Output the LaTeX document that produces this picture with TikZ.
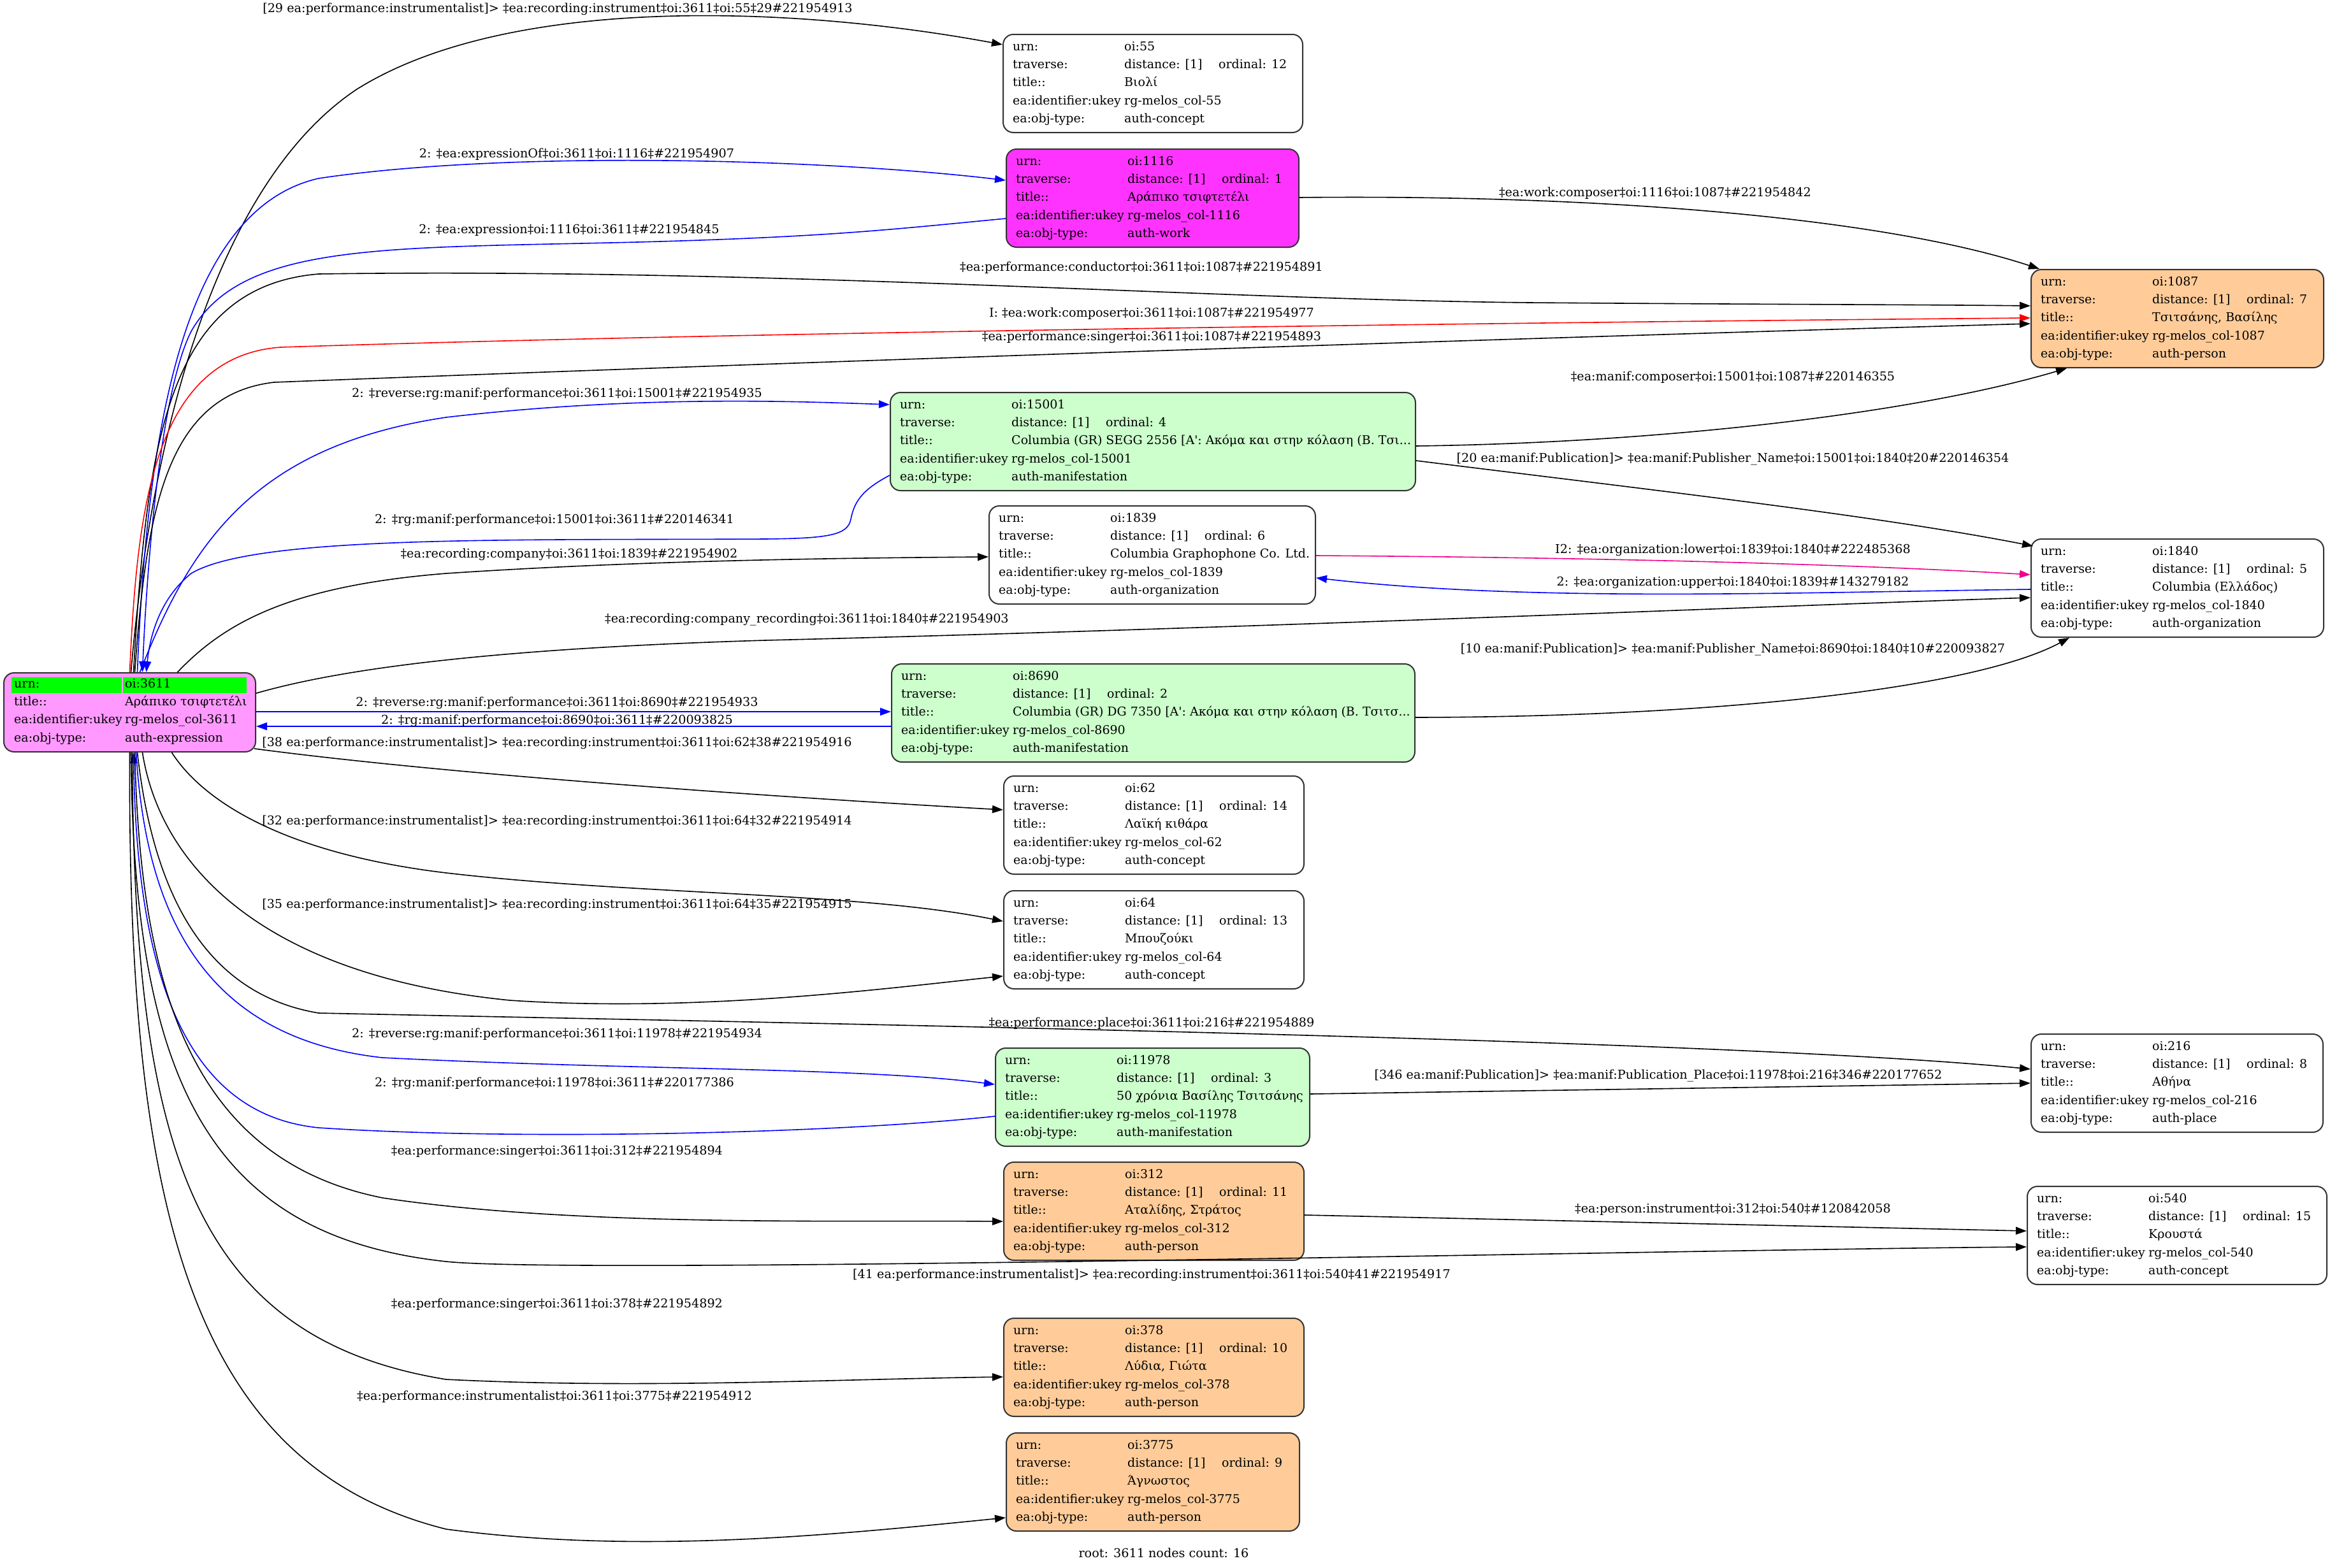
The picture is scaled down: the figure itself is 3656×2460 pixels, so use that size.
\documentclass[tikz,border=0pt]{standalone}
\usepackage{fontspec}
\newfontfamily\gv{DejaVu Serif}
\usetikzlibrary{arrows.meta}
\definecolor{ogreen}{HTML}{CCFFCC}
\definecolor{oorange}{HTML}{FFCC99}
\definecolor{omag}{HTML}{FF33FF}
\definecolor{opink}{HTML}{FF99FF}
\definecolor{cellgreen}{HTML}{00FF00}
\tikzset{
 obox/.style={draw=black!80, line width=2pt, rounded corners=16pt, minimum height=154pt, inner sep=0pt, anchor=north west},
 otext/.style={inner sep=0pt, anchor=north west, font=\gv\fontsize{19}{28.4}\selectfont},
 elabel/.style={inner sep=0pt, font=\gv\fontsize{19.2}{24}\selectfont},
 edge/.style={line width=1.6pt, -{Triangle[length=17pt,width=12pt]}},
}
\newcommand\onode[9]{%
 \node[obox, fill=#4, minimum width=#3pt] (#1) at (#2) {};
 \node[otext] (#1t) at ([xshift=16pt,yshift=-6pt]#1.north west) {\begin{tabular}{@{}p{175pt}@{}l@{}}urn: & #5\\traverse: & \makebox[148pt][l]{distance: [1]}ordinal: #6\\title:: & #7\\ea:identifier:ukey & #8\\ea:obj-type: & #9\end{tabular}};}
\begin{document}
\begin{tikzpicture}[x=1pt,y=-1pt]
\useasboundingbox[fill=white] (0,0) rectangle (3656,2460);
% root
\node[obox, fill=opink, minimum width=395pt, minimum height=124pt] (root) at (5,1055) {};
\fill[cellgreen] (18,1063) rectangle (191,1088);
\fill[cellgreen] (193,1063) rectangle (387,1088);
\node[otext] (roott) at ([xshift=17pt,yshift=-4pt]root.north west) {\begin{tabular}{@{}p{174pt}@{}l@{}}urn: & oi:3611\\title:: & Αράπικο τσιφτετέλι\\ea:identifier:ukey & rg-melos\_col-3611\\ea:obj-type: & auth-expression\end{tabular}};
% other nodes
\onode{n55}{1573,53}{470}{white}{oi:55}{12}{Βιολί}{rg-melos\_col-55}{auth-concept}
\onode{n1116}{1578,233}{459}{omag}{oi:1116}{1}{Αράπικο τσιφτετέλι}{rg-melos\_col-1116}{auth-work}
\onode{n1087}{3186,422}{459}{oorange}{oi:1087}{7}{Τσιτσάνης, Βασίλης}{rg-melos\_col-1087}{auth-person}
\onode{n15001}{1396,615}{824}{ogreen}{oi:15001}{4}{Columbia (GR) SEGG 2556 [A': Ακόμα και στην κόλαση (Β. Τσι...}{rg-melos\_col-15001}{auth-manifestation}
\onode{n1839}{1551,793}{512}{white}{oi:1839}{6}{Columbia Graphophone Co. Ltd.}{rg-melos\_col-1839}{auth-organization}
\onode{n1840}{3186,845}{459}{white}{oi:1840}{5}{Columbia (Ελλάδος)}{rg-melos\_col-1840}{auth-organization}
\onode{n8690}{1398,1041}{821}{ogreen}{oi:8690}{2}{Columbia (GR) DG 7350 [A': Ακόμα και στην κόλαση (Β. Τσιτσ...}{rg-melos\_col-8690}{auth-manifestation}
\onode{n62}{1574,1217}{471}{white}{oi:62}{14}{Λαϊκή κιθάρα}{rg-melos\_col-62}{auth-concept}
\onode{n64}{1574,1397}{471}{white}{oi:64}{13}{Μπουζούκι}{rg-melos\_col-64}{auth-concept}
\onode{n216}{3186,1622}{458}{white}{oi:216}{8}{Αθήνα}{rg-melos\_col-216}{auth-place}
\onode{n11978}{1561,1644}{493}{ogreen}{oi:11978}{3}{50 χρόνια Βασίλης Τσιτσάνης}{rg-melos\_col-11978}{auth-manifestation}
\onode{n540}{3180,1861}{470}{white}{oi:540}{15}{Κρουστά}{rg-melos\_col-540}{auth-concept}
\onode{n312}{1574,1823}{471}{oorange}{oi:312}{11}{Αταλίδης, Στράτος}{rg-melos\_col-312}{auth-person}
\onode{n378}{1574,2068}{471}{oorange}{oi:378}{10}{Λύδια, Γιώτα}{rg-melos\_col-378}{auth-person}
\onode{n3775}{1578,2248}{460}{oorange}{oi:3775}{9}{Άγνωστος}{rg-melos\_col-3775}{auth-person}
% edges
\draw[edge] ([xshift=2pt]root.north) .. controls (240,650) and (350,280) .. (560,140) .. controls (800,-10) and (1250,10) .. ([yshift=-17pt]n55.north west);
\draw[edge,blue] ([xshift=12pt]root.north) .. controls (230,700) and (280,330) .. (500,280) .. controls (800,235) and (1300,250) .. ([yshift=-50pt]n1116.north west);
\draw[edge,blue] ([yshift=-110pt]n1116.north west) .. controls (1400,360) and (1300,372) .. (1000,380) .. controls (600,390) and (380,380) .. (300,520) .. controls (250,620) and (230,900) .. ([xshift=20pt]root.north);
\draw[edge] ([xshift=6pt]root.north) .. controls (230,700) and (260,450) .. (500,430) .. controls (1200,420) and (1900,470) .. (2400,475) .. controls (2800,478) and (3000,478) .. ([yshift=-58pt]n1087.north west);
\draw[edge,red] (root.north) .. controls (215,800) and (240,560) .. (440,545) .. controls (1200,520) and (2500,505) .. ([yshift=-77pt]n1087.north west);
\draw[edge] ([xshift=8pt]root.north) .. controls (230,800) and (260,620) .. (430,600) .. controls (1200,570) and (2400,530) .. ([yshift=-86pt]n1087.north west);
\draw[edge,blue] ([xshift=16pt]root.north) .. controls (300,850) and (400,700) .. (700,655) .. controls (1000,620) and (1250,630) .. ([yshift=-20pt]n15001.north west);
\draw[edge,blue] ([yshift=-131pt]n15001.north west) .. controls (1350,770) and (1340,790) .. (1335,815) .. controls (1330,840) and (1300,845) .. (1200,846) .. controls (800,848) and (400,840) .. (300,900) .. controls (250,940) and (235,1000) .. ([xshift=26pt]root.north);
\draw[edge] ([xshift=75pt]root.north) .. controls (350,980) and (450,920) .. (700,900) .. controls (1000,880) and (1300,876) .. ([yshift=-81pt]n1839.north west);
\draw[edge] ([yshift=-33pt]root.north east) .. controls (500,1060) and (700,1020) .. (1200,1005) .. controls (2000,985) and (2800,950) .. ([yshift=-93pt]n1840.north west);
\draw[edge,blue] ([yshift=-62pt]root.north east) -- ([yshift=-76pt]n8690.north west);
\draw[edge,blue] ([yshift=-99pt]n8690.north west) -- ([yshift=-85pt]root.north east);
\draw[edge] ([xshift=-3pt,yshift=-120pt]root.north east) .. controls (700,1215) and (1200,1250) .. ([yshift=-54pt]n62.north west);
\draw[edge] ([xshift=66pt]root.south) .. controls (320,1260) and (450,1340) .. (700,1370) .. controls (1000,1405) and (1350,1400) .. ([yshift=-49pt]n64.north west);
\draw[edge] ([xshift=20pt]root.south) .. controls (250,1350) and (400,1530) .. (800,1570) .. controls (1100,1590) and (1400,1550) .. ([yshift=-135pt]n64.north west);
\draw[edge] ([xshift=12pt]root.south) .. controls (240,1400) and (320,1560) .. (500,1590) .. controls (1200,1605) and (2700,1630) .. ([yshift=-56pt]n216.north west);
\draw[edge,blue] ([xshift=10pt]root.south) .. controls (230,1450) and (330,1630) .. (600,1660) .. controls (1000,1680) and (1350,1675) .. ([yshift=-58pt]n11978.north west);
\draw[edge,blue] ([yshift=-108pt]n11978.north west) .. controls (1300,1780) and (800,1790) .. (500,1770) .. controls (300,1750) and (215,1550) .. ([xshift=6pt]root.south);
\draw[edge] ([xshift=8pt]root.south) .. controls (220,1550) and (300,1820) .. (600,1880) .. controls (900,1925) and (1300,1915) .. ([yshift=-94pt]n312.north west);
\draw[edge] ([xshift=2pt]root.south) .. controls (210,1700) and (330,1940) .. (700,1980) .. controls (900,2001) and (2600,1962) .. ([yshift=-96pt]n540.north west);
\draw[edge] ([xshift=4pt]root.south) .. controls (210,1800) and (300,2100) .. (700,2165) .. controls (1000,2180) and (1300,2165) .. ([yshift=-93pt]n378.north west);
\draw[edge] (root.south) .. controls (200,1900) and (300,2300) .. (700,2400) .. controls (1000,2440) and (1300,2410) .. ([yshift=-134pt]n3775.north west);
\draw[edge] ([yshift=-77pt]n1116.north east) .. controls (2500,305) and (2950,340) .. ([xshift=14pt]n1087.north west);
\draw[edge] ([yshift=-85pt]n15001.north east) .. controls (2600,695) and (3000,650) .. ([xshift=57pt]n1087.south west);
\draw[edge] ([yshift=-108pt]n15001.north east) .. controls (2600,770) and (2950,810) .. ([xshift=4pt,yshift=-12pt]n1840.north west);
\draw[edge,magenta] ([yshift=-79pt]n1839.north east) .. controls (2500,875) and (2900,885) .. ([yshift=-57pt]n1840.north west);
\draw[edge,blue] ([yshift=-80pt]n1840.north west) .. controls (2800,930) and (2400,945) .. ([yshift=-114pt]n1839.north east);
\draw[edge] ([yshift=-85pt]n8690.north east) .. controls (2700,1125) and (3100,1080) .. ([xshift=61pt]n1840.south west);
\draw[edge] ([yshift=-73pt]n11978.north east) -- ([yshift=-78pt]n216.north west);
\draw[edge] ([yshift=-84pt]n312.north east) -- ([yshift=-71pt]n540.north west);
% labels
\node[elabel] (l1) at (875,14) {[29 ea:performance:instrumentalist]> ‡ea:recording:instrument‡oi:3611‡oi:55‡29\#221954913};
\node[elabel] (l2) at (905,242) {2: ‡ea:expressionOf‡oi:3611‡oi:1116‡\#221954907};
\node[elabel] (l3) at (893,361) {2: ‡ea:expression‡oi:1116‡oi:3611‡\#221954845};
\node[elabel] (l4) at (1791,420) {‡ea:performance:conductor‡oi:3611‡oi:1087‡\#221954891};
\node[elabel] (l5) at (1807,492) {I: ‡ea:work:composer‡oi:3611‡oi:1087‡\#221954977};
\node[elabel] (l6) at (1807,529) {‡ea:performance:singer‡oi:3611‡oi:1087‡\#221954893};
\node[elabel] (l7) at (874,618) {2: ‡reverse:rg:manif:performance‡oi:3611‡oi:15001‡\#221954935};
\node[elabel] (l8) at (870,816) {2: ‡rg:manif:performance‡oi:15001‡oi:3611‡\#220146341};
\node[elabel] (l9) at (893,870) {‡ea:recording:company‡oi:3611‡oi:1839‡\#221954902};
\node[elabel] (l10) at (1266,972) {‡ea:recording:company\_recording‡oi:3611‡oi:1840‡\#221954903};
\node[elabel] (l11) at (874,1103) {2: ‡reverse:rg:manif:performance‡oi:3611‡oi:8690‡\#221954933};
\node[elabel] (l12) at (874,1131) {2: ‡rg:manif:performance‡oi:8690‡oi:3611‡\#220093825};
\node[elabel] (l13) at (874,1166) {[38 ea:performance:instrumentalist]> ‡ea:recording:instrument‡oi:3611‡oi:62‡38\#221954916};
\node[elabel] (l14) at (874,1289) {[32 ea:performance:instrumentalist]> ‡ea:recording:instrument‡oi:3611‡oi:64‡32\#221954914};
\node[elabel] (l15) at (874,1420) {[35 ea:performance:instrumentalist]> ‡ea:recording:instrument‡oi:3611‡oi:64‡35\#221954915};
\node[elabel] (l16) at (1807,1606) {‡ea:performance:place‡oi:3611‡oi:216‡\#221954889};
\node[elabel] (l17) at (874,1623) {2: ‡reverse:rg:manif:performance‡oi:3611‡oi:11978‡\#221954934};
\node[elabel] (l18) at (870,1700) {2: ‡rg:manif:performance‡oi:11978‡oi:3611‡\#220177386};
\node[elabel] (l19) at (874,1807) {‡ea:performance:singer‡oi:3611‡oi:312‡\#221954894};
\node[elabel] (l20) at (1807,2001) {[41 ea:performance:instrumentalist]> ‡ea:recording:instrument‡oi:3611‡oi:540‡41\#221954917};
\node[elabel] (l21) at (874,2047) {‡ea:performance:singer‡oi:3611‡oi:378‡\#221954892};
\node[elabel] (l22) at (870,2192) {‡ea:performance:instrumentalist‡oi:3611‡oi:3775‡\#221954912};
\node[elabel] (l23) at (2597,303) {‡ea:work:composer‡oi:1116‡oi:1087‡\#221954842};
\node[elabel] (l24) at (2719,592) {‡ea:manif:composer‡oi:15001‡oi:1087‡\#220146355};
\node[elabel] (l25) at (2719,720) {[20 ea:manif:Publication]> ‡ea:manif:Publisher\_Name‡oi:15001‡oi:1840‡20\#220146354};
\node[elabel] (l26) at (2719,863) {I2: ‡ea:organization:lower‡oi:1839‡oi:1840‡\#222485368};
\node[elabel] (l27) at (2719,914) {2: ‡ea:organization:upper‡oi:1840‡oi:1839‡\#143279182};
\node[elabel] (l28) at (2719,1019) {[10 ea:manif:Publication]> ‡ea:manif:Publisher\_Name‡oi:8690‡oi:1840‡10\#220093827};
\node[elabel] (l29) at (2602,1688) {[346 ea:manif:Publication]> ‡ea:manif:Publication\_Place‡oi:11978‡oi:216‡346\#220177652};
\node[elabel] (l30) at (2719,1898) {‡ea:person:instrument‡oi:312‡oi:540‡\#120842058};
\node[elabel] (foot) at (1826,2437) {root: 3611 nodes count: 16};
\end{tikzpicture}
\end{document}
